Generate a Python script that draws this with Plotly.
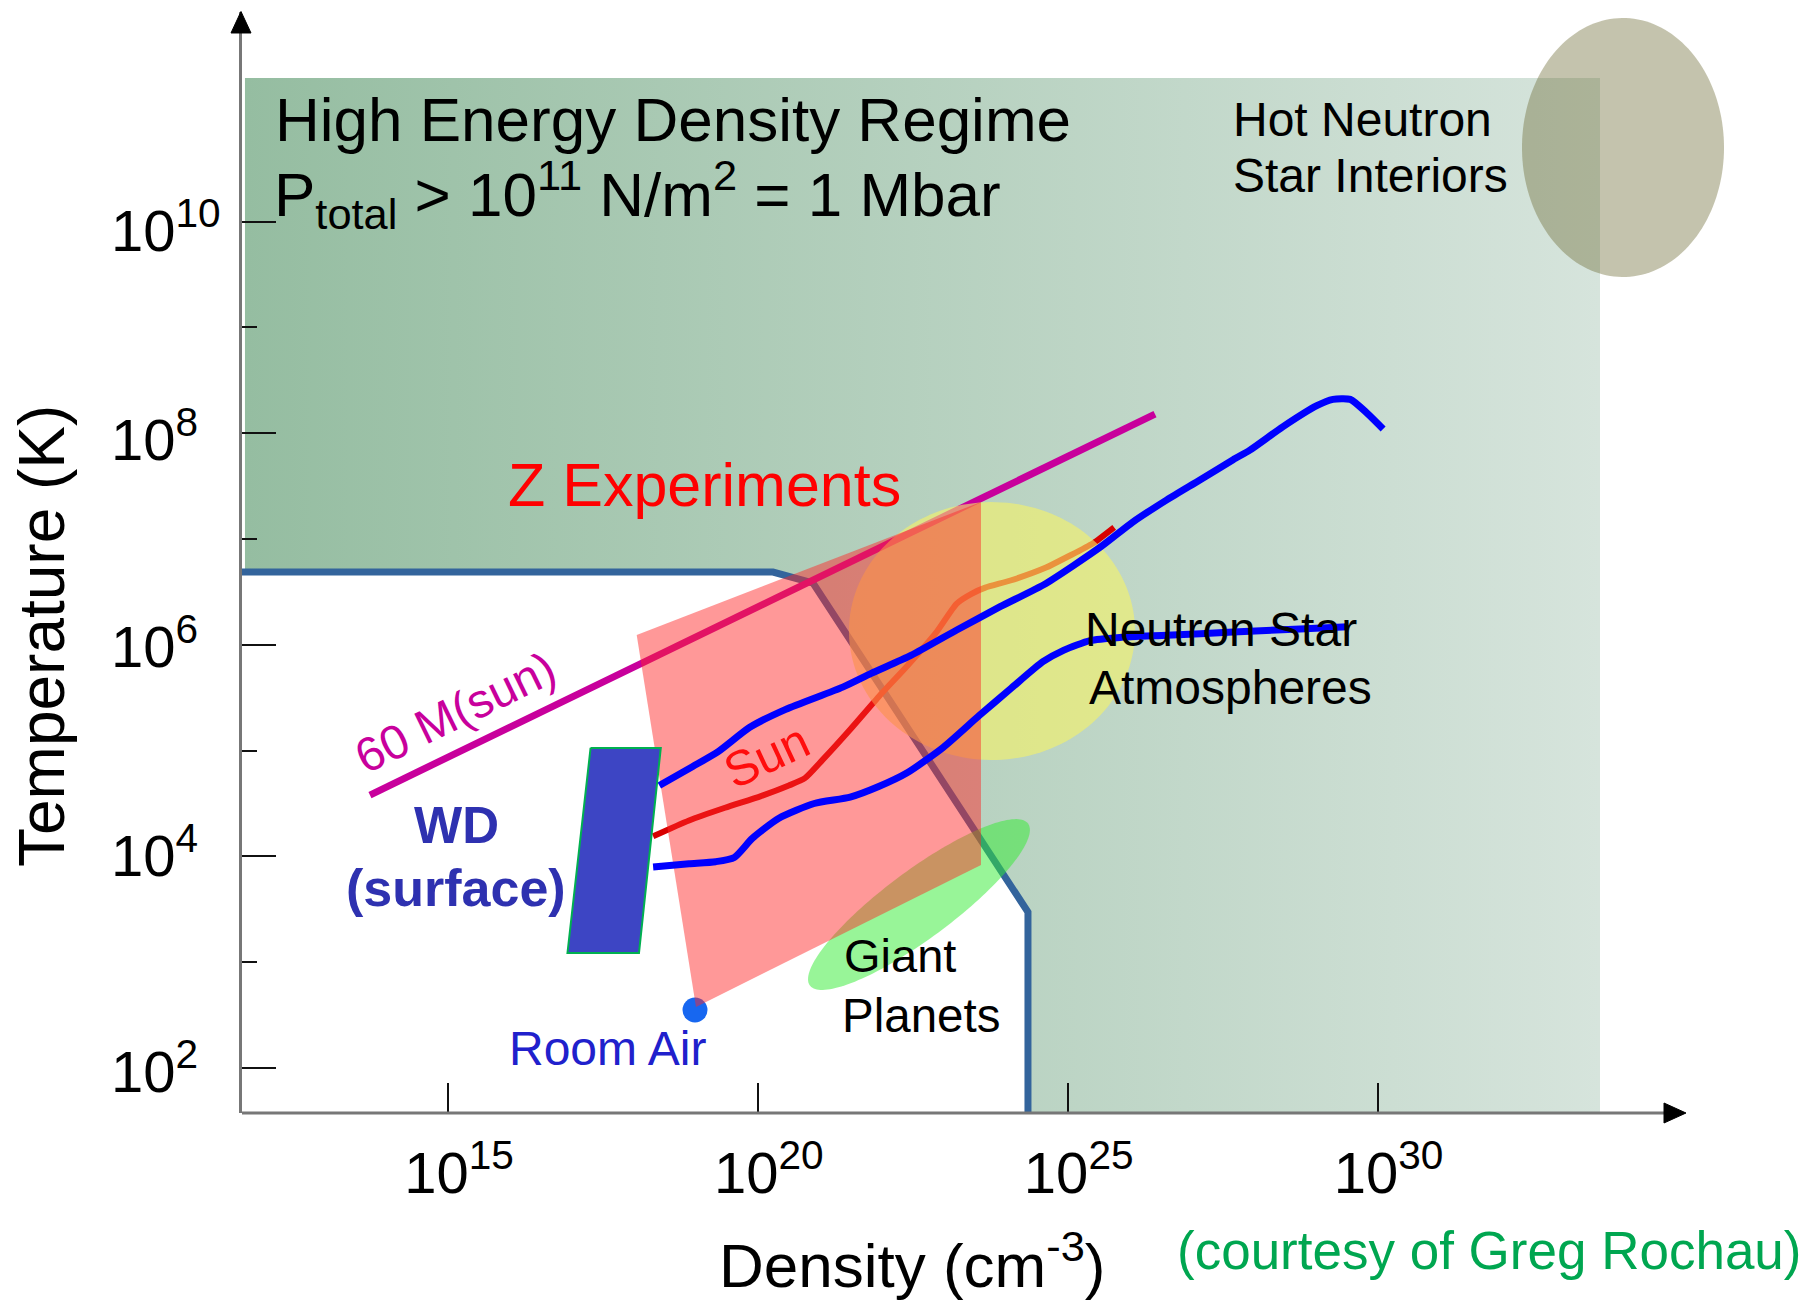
import numpy as np
import plotly.graph_objects as go

FONT = "Liberation Sans, Arial, Helvetica, sans-serif"

# ---------------------------------------------------------------- canvas
W, H = 1805, 1303
M_L, M_R, M_T, M_B = 242, 65, 12, 190
PLOT_W = W - M_L - M_R
PLOT_H = H - M_T - M_B

# axes are log10(density / cm^-3) and log10(T / K)
X_RANGE = [11.676, 35.849]
Y_RANGE = [1.5747, 11.981]
X_AXIS_END = 34.881          # where the density arrow stops
SX = PLOT_W / (X_RANGE[1] - X_RANGE[0])   # px per decade
SY = PLOT_H / (Y_RANGE[1] - Y_RANGE[0])

# ---------------------------------------------------------------- data
# high-energy-density region (P > 1 Mbar)
hed_logn = [11.724, 33.59, 33.59, 24.359, 24.359, 20.89, 20.245, 11.724]
hed_logT = [11.357, 11.357, 1.575, 1.575, 3.474, 6.584, 6.688, 6.688]

# 1 Mbar boundary curve
bound_logn = [11.676, 20.245, 20.89, 24.359, 24.359]
bound_logT = [6.688, 6.688, 6.584, 3.474, 1.5747]

# Z-machine accessible region
zexp_logn = [18.045, 23.601, 23.601, 19.002]
zexp_logT = [6.093, 7.350, 3.919, 2.577]

# 60 solar-mass star track
m60_logn = [13.741, 26.409]
m60_logT = [4.580, 8.181]

# solar interior profile
sun_logn = [18.31, 18.89, 19.47, 20.05, 20.50, 20.76, 21.04, 21.49, 21.95, 22.41,
            22.87, 23.21, 23.44, 23.67, 24.09, 24.65, 24.99, 25.41, 25.75]
sun_logT = [4.19, 4.34, 4.46, 4.57, 4.67, 4.74, 4.91, 5.20, 5.51, 5.80,
            6.11, 6.39, 6.48, 6.54, 6.61, 6.73, 6.83, 6.96, 7.11]

# upper stellar track
upper_logn = [18.41, 18.95, 19.36, 19.87, 20.45, 21.37, 21.83, 22.47, 23.21, 23.91,
              24.65, 25.52, 26.05, 26.60, 27.14, 27.67, 27.94, 28.47, 29.02, 29.28,
              29.56, 29.83, 30.09]
upper_logT = [4.67, 4.85, 4.99, 5.22, 5.39, 5.60, 5.73, 5.90, 6.14, 6.36,
              6.58, 6.92, 7.16, 7.37, 7.56, 7.75, 7.84, 8.06, 8.26, 8.32,
              8.32, 8.19, 8.04]

# lower stellar track
lower_logn = [18.31, 18.89, 19.32, 19.62, 19.91, 20.34, 20.91, 21.49, 21.95, 22.41,
              22.99, 23.57, 24.09, 24.60, 24.94, 25.36, 25.84, 26.60, 27.67, 28.75,
              29.52]
lower_logT = [3.90, 3.93, 3.95, 3.99, 4.17, 4.36, 4.50, 4.56, 4.66, 4.79,
              5.03, 5.33, 5.59, 5.84, 5.95, 6.04, 6.07, 6.09, 6.12, 6.15,
              6.17]

# white-dwarf surface conditions
wd_logn = [17.301, 18.434, 18.082, 16.928]
wd_logT = [5.025, 5.025, 3.087, 3.087]

# room air
air_logn = [18.986]
air_logT = [2.548]

# elliptical regions: centre and semi-axes in decades
hot_ns_c, hot_ns_r = (33.961, 10.70), (1.630, 1.224)
ns_atm_c, ns_atm_r = (23.778, 6.13), (2.308, 1.219)
# giant planets: ends of the long axis and half width across it (px)
giant_logn = [20.84, 24.36]
giant_logT = [2.78, 4.31]
GIANT_HALF_WIDTH = 34

x_tickvals = [15, 20, 25, 30]
x_ticktext = ["10<sup>15</sup>", "10<sup>20</sup>", "10<sup>25</sup>", "10<sup>30</sup>"]
y_tickvals = [2, 4, 6, 8, 10]
y_minorvals = [3, 5, 7, 9]
y_ticktext = ["10<sup>2</sup>", "10<sup>4</sup>", "10<sup>6</sup>", "10<sup>8</sup>", "10<sup>10</sup>"]


# ---------------------------------------------------------------- helpers
def ellipse(c, r, n=160):
    t = np.linspace(0, 2 * np.pi, n)
    return c[0] + r[0] * np.cos(t), c[1] + r[1] * np.sin(t)


def tilted_ellipse(xs, ys, half_width_px, n=160):
    cx, cy = (xs[0] + xs[1]) / 2, (ys[0] + ys[1]) / 2
    ux, uy = (xs[1] - xs[0]) / 2 * SX, (ys[1] - ys[0]) / 2 * SY
    a = np.hypot(ux, uy)
    ex, ey = ux / a, uy / a
    t = np.linspace(0, 2 * np.pi, n)
    dx = a * np.cos(t) * ex - half_width_px * np.sin(t) * ey
    dy = a * np.cos(t) * ey + half_width_px * np.sin(t) * ex
    return cx + dx / SX, cy + dy / SY


def pxx(x):
    return (x - M_L) / PLOT_W


def pxy(y):
    return (M_T + PLOT_H - y) / PLOT_H


def region(x, y, color):
    return go.Scatter(x=list(x), y=list(y), fill="toself", fillcolor=color,
                      mode="none", hoverinfo="skip")


def curve(x, y, color, width, shape="spline"):
    return go.Scatter(x=x, y=y, mode="lines", hoverinfo="skip",
                      line=dict(color=color, width=width, shape=shape, smoothing=0.6))


fig = go.Figure()

# HED regime, shaded with a left-to-right gradient
fig.add_trace(go.Scatter(
    x=hed_logn, y=hed_logT, fill="toself", mode="none", hoverinfo="skip",
    fillgradient=dict(type="horizontal",
                      colorscale=[[0, "#95bda1"], [1, "#d6e4dc"]])))
fig.add_trace(curve(bound_logn, bound_logT, "#33649c", 7, shape="linear"))
fig.add_trace(region(*ellipse(hot_ns_c, hot_ns_r), "rgba(107,105,50,0.40)"))
fig.add_trace(curve(m60_logn, m60_logT, "#c8009c", 7, shape="linear"))
fig.add_trace(curve(sun_logn, sun_logT, "#d80000", 6))
fig.add_trace(region(*tilted_ellipse(giant_logn, giant_logT, GIANT_HALF_WIDTH),
                     "rgba(50,235,50,0.50)"))
fig.add_trace(go.Scatter(x=air_logn, y=air_logT, mode="markers", hoverinfo="skip",
                         marker=dict(size=25, color="#1767f0")))
fig.add_trace(region(*ellipse(ns_atm_c, ns_atm_r), "rgba(247,243,101,0.60)"))
fig.add_trace(region(zexp_logn, zexp_logT, "rgba(255,40,40,0.48)"))
fig.add_trace(curve(upper_logn, upper_logT, "#0000ff", 7))
fig.add_trace(curve(lower_logn, lower_logT, "#0000ff", 7))
fig.add_trace(go.Scatter(x=wd_logn + wd_logn[:1], y=wd_logT + wd_logT[:1],
                         fill="toself", fillcolor="#3d45c4", mode="lines",
                         line=dict(color="#00b050", width=2), hoverinfo="skip"))

# ---------------------------------------------------------------- axes
fig.update_layout(
    width=W, height=H, margin=dict(l=M_L, r=M_R, t=M_T, b=M_B),
    paper_bgcolor="white", plot_bgcolor="white", showlegend=False,
    font=dict(family=FONT, color="#000"),
)
fig.update_xaxes(
    range=X_RANGE, tickmode="array", tickvals=x_tickvals, ticktext=x_ticktext,
    ticks="inside", ticklen=30, tickwidth=2, tickcolor="#111",
    tickfont=dict(size=58, family=FONT, color="#000"),
    ticklabelshift=11, ticklabelstandoff=21,
    showgrid=False, zeroline=False, showline=False,
)
fig.update_yaxes(
    range=Y_RANGE, tickmode="array", tickvals=y_tickvals, showticklabels=False,
    ticks="inside", ticklen=34, tickwidth=2, tickcolor="#111",
    minor=dict(tickmode="array", tickvals=y_minorvals, ticks="inside",
               ticklen=15, tickwidth=2, tickcolor="#111"),
    showgrid=False, zeroline=False, showline=True, linecolor="#777", linewidth=3,
)

# density axis line and arrowheads
fig.add_shape(type="line", xref="x", yref="paper", x0=X_RANGE[0], x1=X_AXIS_END,
              y0=0, y1=0, line=dict(color="#777", width=3), layer="above")


def tri(p1, p2, p3):
    pts = [p1, p2, p3]
    return "M " + " L ".join(f"{pxx(a):.5f},{pxy(b):.5f}" for a, b in pts) + " Z"


fig.add_shape(type="path", xref="paper", yref="paper", layer="above",
              path=tri((241, 11.5), (231, 33), (251, 33)),
              fillcolor="#000", line=dict(color="#000", width=1))
fig.add_shape(type="path", xref="paper", yref="paper", layer="above",
              path=tri((1686, 1113), (1664, 1103), (1664, 1123)),
              fillcolor="#000", line=dict(color="#000", width=1))


# ---------------------------------------------------------------- labels
def label(text, x, y, size, color="#000", xanchor="left", yanchor="bottom", angle=0):
    fig.add_annotation(text=text, x=pxx(x), y=pxy(y), xref="paper", yref="paper",
                       showarrow=False, xanchor=xanchor, yanchor=yanchor,
                       textangle=angle, borderpad=0,
                       font=dict(size=size, color=color, family=FONT))


label("High Energy Density Regime", 273.5, 154.8, 62)
label("P<sub>total</sub> > 10<sup>11</sup> N/m<sup>2</sup> = 1 Mbar", 273, 238.9, 62)
label("Hot Neutron", 1232, 146.9, 48)
label("Star Interiors", 1232, 203.5, 48)
label("Z Experiments", 507, 519.6, 61, color="#ff0000")
label("60 M(sun)", 455, 712, 48, color="#c8009c", xanchor="center", yanchor="middle", angle=-26)
label("Sun", 766, 756, 49, color="#ff0d0d", xanchor="center", yanchor="middle", angle=-25)
label("Neutron Star", 1084.4, 657.2, 48)
label("Atmospheres", 1088, 715.2, 48)
label("<b>WD</b>", 456, 854.8, 51, color="#2e31b0", xanchor="center")
label("<b>(surface)</b>", 456, 917.8, 52, color="#2e31b0", xanchor="center")
label("Giant", 842.7, 983, 47)
label("Planets", 841, 1043, 47.5)
label("Room Air", 508, 1075.5, 48, color="#2020cc")

# temperature tick labels, left aligned
for txt, base in zip(y_ticktext, [1092.6, 877, 668, 460.6, 252]):
    label(txt, 110, base + 12.3, 58)

label("Temperature (K)", 42, 636, 64, xanchor="center", yanchor="middle", angle=-90)
label("Density (cm<sup>-3</sup>)", 912, 1301, 62, xanchor="center")
label("(courtesy of Greg Rochau)", 1175.5, 1281, 53, color="#00a650")

fig.write_html("out.html")
